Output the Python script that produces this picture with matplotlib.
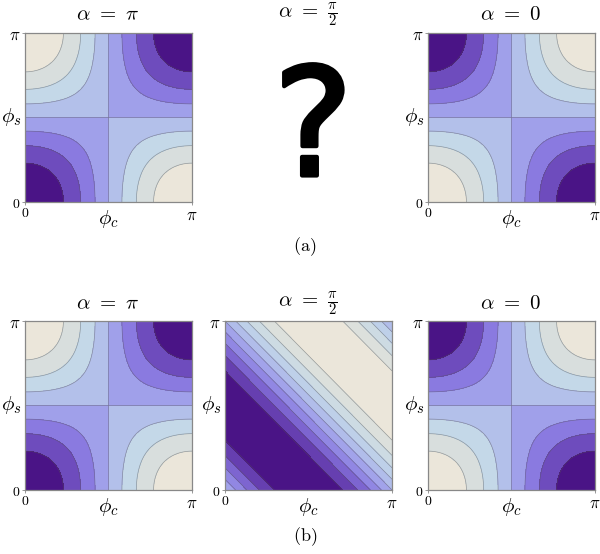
import numpy as np
import matplotlib
matplotlib.use("Agg")
from matplotlib import pyplot as plt
from matplotlib import patheffects
from matplotlib.colors import LinearSegmentedColormap

plt.rcParams["mathtext.fontset"] = "cm"

# panel titles and labels
titles = [r"$\alpha\ =\ \pi$", r"$\alpha\ =\ \frac{\pi}{2}$", r"$\alpha\ =\ 0$"]
row_labels = [r"$\mathrm{(a)}$", r"$\mathrm{(b)}$"]
tick_labels = [r"$0$", r"$\pi$"]

# contour levels
levels_cc = [-1.0, -0.75, -0.5, -0.25, 0.0, 0.25, 0.5, 0.75, 1.0]
levels_sum = [-1.0, -0.8, -0.6, -0.4, -0.2, 0.0, 0.2, 0.4, 0.6, 0.8, 1.0]

# band colours from low (beige) to high (dark purple)
band_colors = ["#ebe6da", "#d8dedd", "#c4d8e8", "#b3c0ea",
               "#a0a0ea", "#8a7ae0", "#6e4cbd", "#4a1486"]
cmap = LinearSegmentedColormap.from_list("mma", band_colors)

pc = np.linspace(0, np.pi, 400)
PC, PS = np.meshgrid(pc, pc)
fields = {
    "pi": np.cos(PC) * np.cos(PS),
    "half": np.sin(PC + PS),
    "zero": -np.cos(PC) * np.cos(PS),
}

fig = plt.figure(figsize=(6, 5.54), dpi=100)
W, H = 600.0, 554.0
pw, ph = 167 / W, 169 / H
lefts = [25 / W, 225 / W, 428 / W]
bottoms = [1 - 202 / H, 1 - 490 / H]


def panel(left, bottom, Z, levels, colors):
    ax = fig.add_axes([left, bottom, pw, ph])
    ax.contourf(PC, PS, Z, levels=levels, colors=colors)
    ax.contour(PC, PS, Z, levels=levels[1:-1], colors="#555555",
               linewidths=0.5, alpha=0.5, linestyles="solid")
    ax.set_xlim(0, np.pi)
    ax.set_ylim(0, np.pi)
    ax.set_xticks([0, np.pi])
    ax.set_yticks([0, np.pi])
    ax.set_xticklabels(tick_labels)
    ax.set_yticklabels(tick_labels)
    ax.tick_params(length=2, width=0.6, color="#888888", pad=1, labelsize=12)
    for lab in (ax.get_xticklabels()[0], ax.get_yticklabels()[0]):
        lab.set_fontsize(10)
    for s in ax.spines.values():
        s.set_color("#888888")
        s.set_linewidth(0.9)
    ax.text(0.5, -0.1, r"$\phi_c$", transform=ax.transAxes,
            ha="center", va="center", fontsize=15)
    ax.text(-0.08, 0.5, r"$\phi_s$", transform=ax.transAxes,
            ha="center", va="center", fontsize=15)
    return ax


cols8 = band_colors
cols10 = [cmap(v) for v in np.linspace(0, 1, 10)]

for r, b in enumerate(bottoms):
    panel(lefts[0], b, fields["pi"], levels_cc, cols8)
    panel(lefts[2], b, fields["zero"], levels_cc, cols8)
    if r == 1:
        panel(lefts[1], b, fields["half"], levels_sum, cols10)

title_y = [1 - 14 / H, 1 - 303 / H]
for ty in title_y:
    for i, t in enumerate(titles):
        fig.text(lefts[i] + pw / 2 - 0.002, ty, t, ha="center", va="center", fontsize=15)

fig.text(0.522, 1 - 134 / H, "?", ha="center", va="center",
         fontsize=108, family="DejaVu Sans",
         path_effects=[patheffects.withStroke(linewidth=3, foreground="black")])

fig.text(0.508, 1 - 247 / H, row_labels[0], ha="center", va="center", fontsize=13)
fig.text(0.508, 1 - 537 / H, row_labels[1], ha="center", va="center", fontsize=13)

fig.savefig("out.png", dpi=100, facecolor="white")
